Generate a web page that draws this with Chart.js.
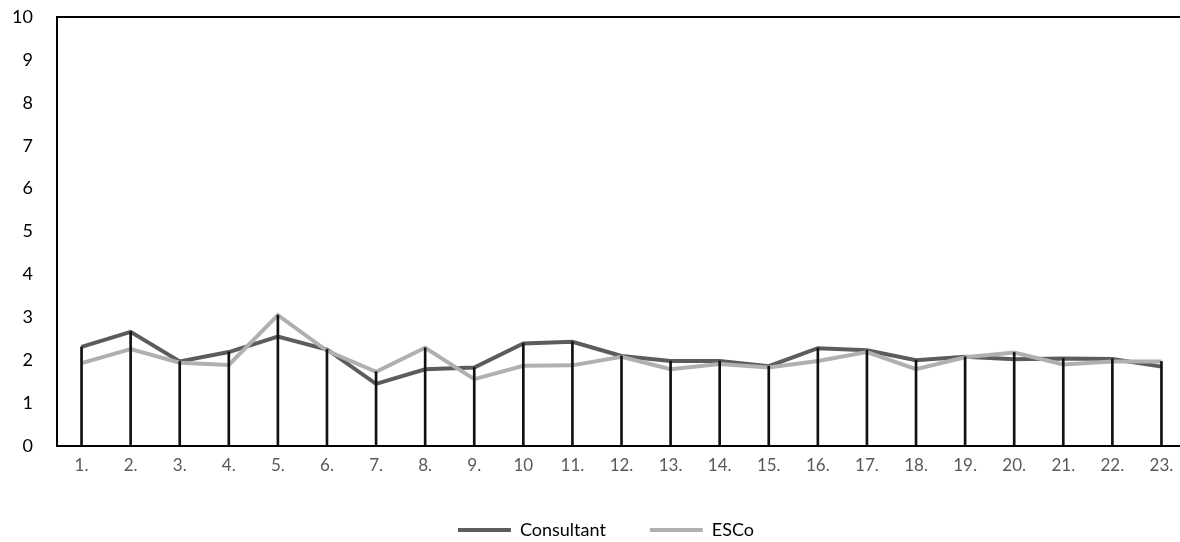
<!DOCTYPE html>
<html>
<head>
<meta charset="utf-8">
<script src="https://cdn.jsdelivr.net/npm/chart.js@4/dist/chart.umd.min.js"></script>
<style>
  html, body { margin: 0; padding: 0; overflow: hidden; background: #ffffff; }
  #wrap { position: relative; width: 1186px; height: 549px; }
</style>
</head>
<body>
<div id="wrap"><canvas id="chart"></canvas></div>
<script>
// Categories along the x axis
const categories = ['1.', '2.', '3.', '4.', '5.', '6.', '7.', '8.', '9.', '10', '11.', '12.',
  '13.', '14.', '15.', '16.', '17.', '18.', '19.', '20.', '21.', '22.', '23.'];

// Mean scores per item
const consultant = [2.31, 2.66, 1.97, 2.19, 2.55, 2.25, 1.45, 1.79, 1.83, 2.39, 2.43, 2.10,
  1.98, 1.98, 1.86, 2.28, 2.23, 2.00, 2.08, 2.02, 2.04, 2.03, 1.85];
const esco = [1.93, 2.26, 1.94, 1.89, 3.05, 2.22, 1.73, 2.29, 1.56, 1.87, 1.88, 2.08,
  1.79, 1.91, 1.83, 1.98, 2.19, 1.79, 2.07, 2.18, 1.90, 1.97, 1.97];

// Y axis range
const yMin = 0;
const yMax = 10;
const yStep = 1;

// Drop lines reach the higher of the two series at each item
const dropLines = consultant.map((v, i) => Math.max(v, esco[i]));

const FONT = 'Lato, "Open Sans", sans-serif';

// Nudges the legend row a little to the right of the canvas centre
const legendNudge = {
  id: 'legendNudge',
  afterLayout(chart) {
    const lg = chart.legend;
    if (lg) { lg.left += 13; lg.right += 13; }
  }
};

new Chart(document.getElementById('chart'), {
  data: {
    labels: categories,
    datasets: [
      {
        type: 'bar',
        label: 'drop',
        data: dropLines,
        backgroundColor: '#111111',
        barThickness: 2,
        order: 0
      },
      {
        type: 'line',
        label: 'ESCo',
        data: esco,
        borderColor: '#b0b0b0',
        backgroundColor: '#b0b0b0',
        borderWidth: 4,
        pointRadius: 0,
        tension: 0,
        order: 1
      },
      {
        type: 'line',
        label: 'Consultant',
        data: consultant,
        borderColor: '#5c5c5c',
        backgroundColor: '#5c5c5c',
        borderWidth: 4,
        pointRadius: 0,
        tension: 0,
        order: 2
      }
    ]
  },
  plugins: [legendNudge],
  options: {
    responsive: true,
    maintainAspectRatio: false,
    animation: false,
    layout: { padding: 0 },
    plugins: {
      tooltip: { enabled: false },
      legend: {
        position: 'bottom',
        reverse: true,
        labels: {
          filter: (item) => item.text !== 'drop',
          usePointStyle: true,
          pointStyle: 'line',
          pointStyleWidth: 53,
          boxHeight: 18,
          padding: 44,
          color: '#000000',
          font: { family: FONT, size: 18 }
        }
      }
    },
    scales: {
      x: {
        offset: true,
        grid: { display: false, drawTicks: false },
        border: { display: true, color: '#000000', width: 2 },
        ticks: {
          color: '#595959',
          padding: 9,
          maxRotation: 0,
          autoSkip: false,
          font: { family: FONT, size: 17 }
        },
        afterFit: (scale) => { scale.height = 31; }
      },
      y: {
        min: yMin,
        max: yMax,
        grid: {
          drawTicks: false,
          color: (ctx) => (ctx.tick && ctx.tick.value === yMax ? '#000000' : 'rgba(0,0,0,0)'),
          lineWidth: 2
        },
        border: { display: true, color: '#000000', width: 2 },
        ticks: {
          stepSize: yStep,
          color: '#000000',
          padding: 24,
          font: { family: FONT, size: 18 }
        },
        afterFit: (scale) => {
          scale.width = 57;
          scale.paddingTop = 17;
          scale.paddingBottom = 0;
        }
      }
    }
  }
});
</script>
</body>
</html>
